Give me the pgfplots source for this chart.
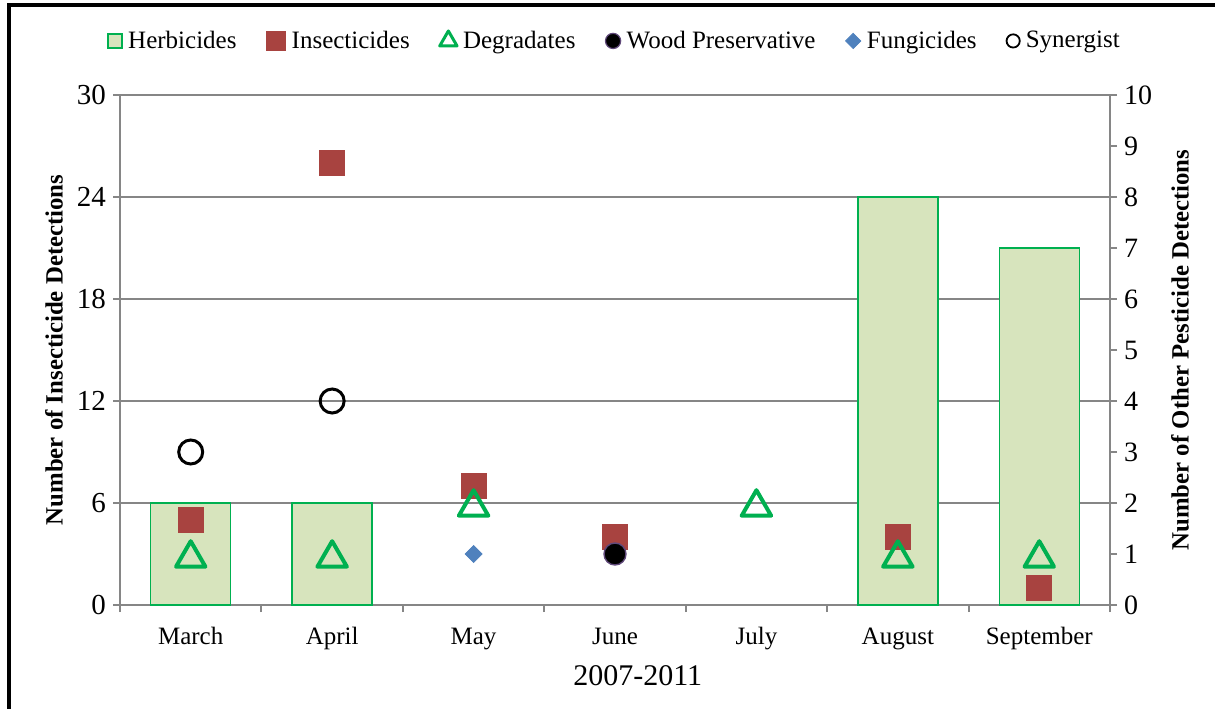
\documentclass[border=0pt]{standalone}
\usepackage{pgfplots}
\pgfplotsset{compat=1.18}
\usepackage{fontspec}
\setmainfont{Liberation Serif}

\definecolor{herbfill}{RGB}{215,228,189}
\definecolor{herbline}{RGB}{0,176,80}
\definecolor{insect}{RGB}{168,67,64}
\definecolor{degr}{RGB}{0,176,80}
\definecolor{fung}{RGB}{79,129,189}
\definecolor{woodline}{RGB}{96,73,122}
\definecolor{axgray}{RGB}{134,134,134}

\pgfplotsset{
  frame/.style={
    at={(60pt,51.5pt)}, anchor=south west,
    scale only axis, width=495pt, height=255pt,
    xmin=-0.5, xmax=6.5, ymin=0,
    clip=false,
    axis line style={axgray, line width=1pt},
    tick style={axgray, line width=1pt},
    tick align=outside,
    major tick length=3.5pt,
    /pgf/number format/assume math mode=true,
  },
  lscale/.style={frame, ymax=30},
  rscale/.style={frame, ymax=10},
}

\begin{document}
\begin{tikzpicture}
\useasboundingbox (0,0) rectangle (607.5pt,354pt);
\draw[line width=2pt] (4.5pt,-20pt) -- (4.5pt,351.5pt) -- (640pt,351.5pt);

% left scale: grid, x axis, month names
\begin{axis}[lscale,
  axis x line*=bottom, axis y line*=left,
  ytick={0,6,...,30},
  ymajorgrids, major grid style={axgray, line width=1pt},
  yticklabel style={font=\fontsize{14.5}{17}\selectfont},
  xtick={0,...,6},
  xticklabels={March,April,May,June,July,August,September},
  major x tick style={draw=none},
  minor xtick={-0.5,0.5,...,6.5},
  minor tick length=3.5pt,
  xticklabel style={font=\fontsize{12.5}{15}\selectfont, anchor=base, yshift=-16pt},
  xlabel={2007-2011},
  xlabel style={font=\fontsize{15}{18}\selectfont, at={(axis description cs:0.523,-0.139)}, anchor=center},
  ylabel={\textbf{Number of Insecticide Detections}},
  ylabel style={font=\fontsize{12.4}{14}\selectfont, at={(axis description cs:-0.0667,0.5)}, anchor=center},
]
\end{axis}

% right scale: axis and herbicide bars
\begin{axis}[rscale,
  axis x line=none, axis y line*=right,
  ytick={0,...,10},
  yticklabel style={font=\fontsize{14}{17}\selectfont},
  ylabel={\textbf{Number of Other Pesticide Detections}},
  ylabel style={font=\fontsize{12.4}{14}\selectfont, at={(axis description cs:1.0707,0.5)}, anchor=center},
  ybar, bar width=40pt,
]
\addplot[fill=herbfill, draw=herbline, line width=0.7pt] coordinates {(0,2) (1,2) (5,8) (6,7)};
\end{axis}

% left scale: insecticides
\begin{axis}[lscale, hide axis]
\addplot[only marks, mark=square*, mark size=6.25pt, color=insect] coordinates {(0,5) (1,26) (2,7) (3,4) (5,4) (6,1)};
\end{axis}

% right scale: other groups and legend
\begin{axis}[rscale, hide axis,
  legend style={at={(0.5,1.106)}, anchor=center, draw=none, fill=none,
    font=\fontsize{12.5}{15}\selectfont,
    /tikz/every odd column/.append style={column sep=2pt},
    /tikz/every even column/.append style={column sep=14pt},
    nodes={inner sep=1pt}},
  legend columns=6, legend cell align=left,
  legend image code/.code={\draw[#1] plot coordinates {(0pt,0pt)};},
]
\addlegendimage{mark=square*, mark size=3.5pt, mark options={fill=herbfill, draw=herbline, line width=1.2pt}}
\addlegendentry{Herbicides}
\addlegendimage{mark=square*, mark size=4.8pt, color=insect}
\addlegendentry{Insecticides}
\addlegendimage{mark=triangle, mark size=5pt, color=degr, mark options={line width=1.5pt, line join=round}}
\addlegendentry{Degradates}
\addlegendimage{mark=*, mark size=3.8pt, mark options={fill=black, draw=woodline, line width=0.6pt}}
\addlegendentry{Wood Preservative}
\addlegendimage{mark=square*, mark size=2.7pt, color=fung, mark options={rotate=45}}
\addlegendentry{Fungicides}
\addlegendimage{mark=o, mark size=3.3pt, color=black, mark options={line width=0.9pt}}
\addlegendentry{Synergist}

\addplot[forget plot, only marks, mark=triangle, mark size=8.5pt, color=degr,
  mark options={line width=2pt, line join=round, yshift=-2.1pt}]
  coordinates {(0,1) (1,1) (2,2) (4,2) (5,1) (6,1)};
\addplot[forget plot, only marks, mark=*, mark size=5.5pt,
  mark options={fill=black, draw=woodline, line width=0.7pt}]
  coordinates {(3,1)};
\addplot[forget plot, only marks, mark=square*, mark size=3pt, color=fung,
  mark options={rotate=45}]
  coordinates {(2,1)};
\addplot[forget plot, only marks, mark=o, mark size=6pt, color=black,
  mark options={line width=1.5pt}]
  coordinates {(0,3) (1,4)};
\end{axis}
\end{tikzpicture}
\end{document}
